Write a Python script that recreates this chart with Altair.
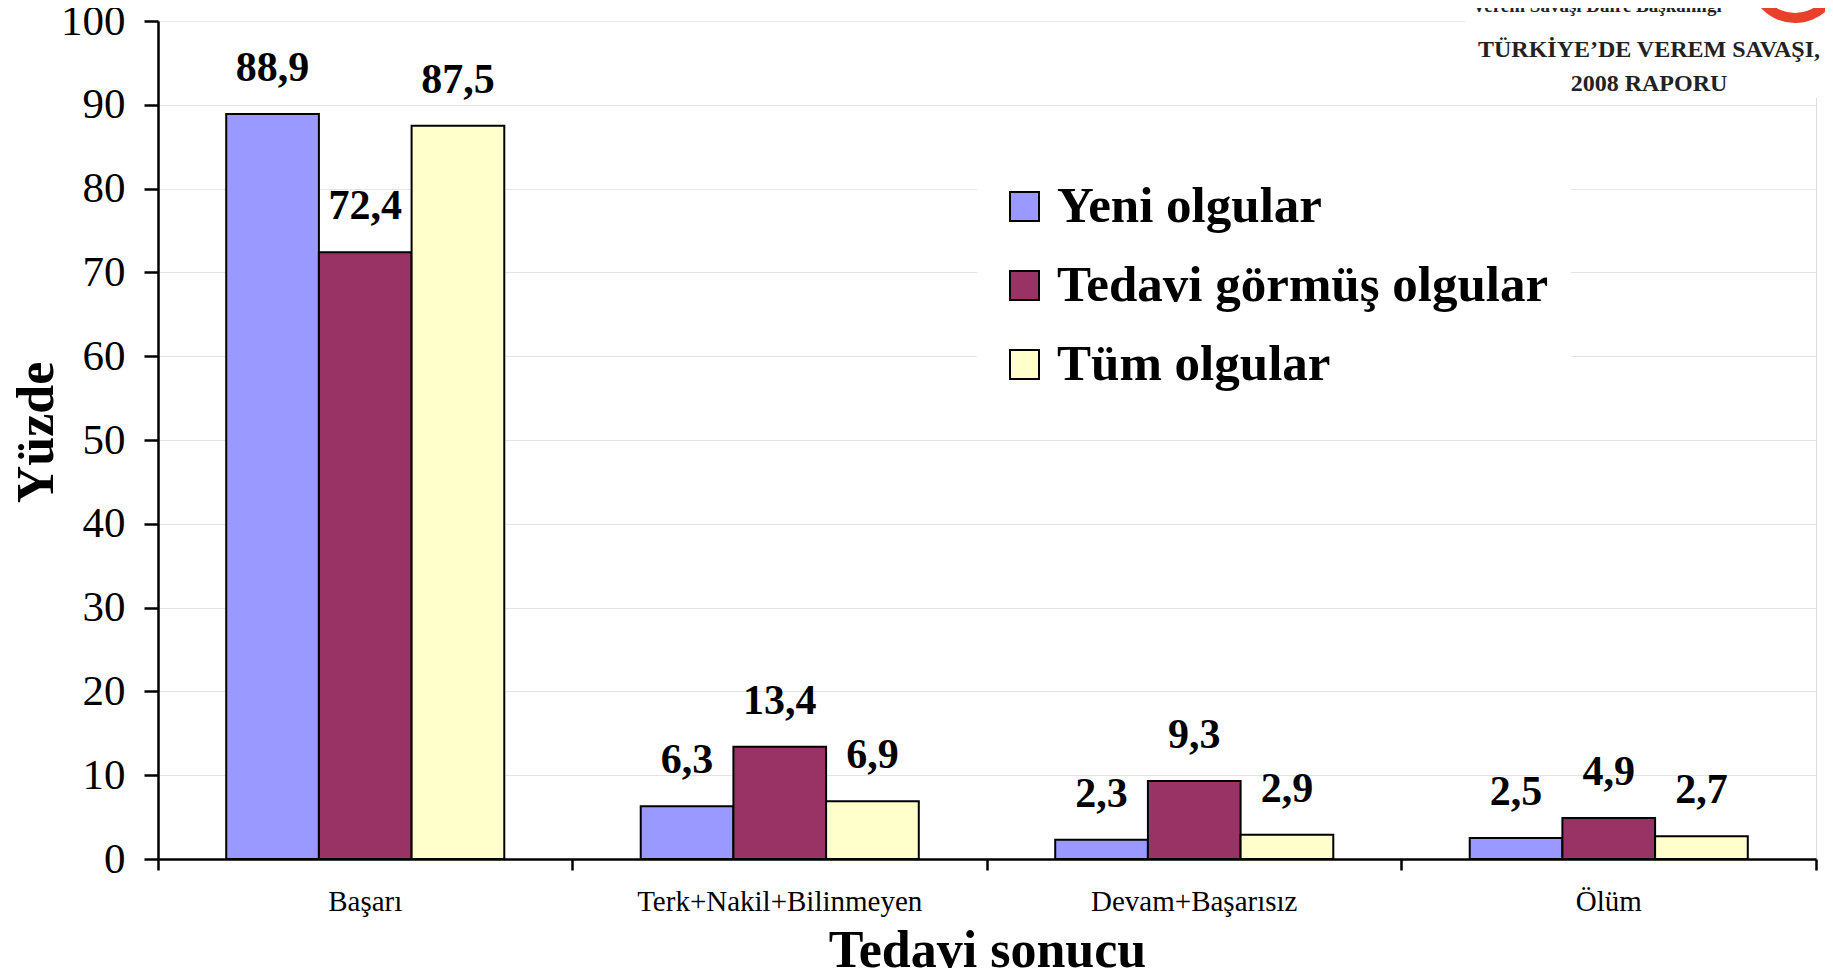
import altair as alt
import pandas as pd

categories = ["Başarı", "Terk+Nakil+Bilinmeyen", "Devam+Başarısız", "Ölüm"]
series = ["Yeni olgular", "Tedavi görmüş olgular", "Tüm olgular"]
yeni = [88.9, 6.3, 2.3, 2.5]
tedavi = [72.4, 13.4, 9.3, 4.9]
tum = [87.5, 6.9, 2.9, 2.7]
colors = ["#9999FF", "#993366", "#FFFFCC"]
y_ticks = [0, 10, 20, 30, 40, 50, 60, 70, 80, 90, 100]
logo_lines = ["TÜRKİYE’DE VEREM SAVAŞI,", "2008 RAPORU"]
logo_top = "Verem Savaşı Daire Başkanlığı"

rows = []
for s, vals in zip(series, [yeni, tedavi, tum]):
    for c, v in zip(categories, vals):
        rows.append({"Kategori": c, "Seri": s, "deger": v,
                     "Etiket": f"{v:.1f}".replace(".", ",")})
df = pd.DataFrame(rows)

FONT = "Liberation Serif"
W, H = 1658, 838

x_enc = alt.X(
    "Kategori:N", sort=categories,
    scale=alt.Scale(paddingInner=0, paddingOuter=0),
    axis=alt.Axis(
        title="Tedavi sonucu", labelAngle=0, labelFont=FONT, labelFontSize=29,
        labelColor="black", labelPadding=17, labelLimit=1000, bandPosition=1,
        tickExtra=True, tickSize=11, tickWidth=2.5, tickColor="black",
        domainColor="black", domainWidth=2.5, titleFont=FONT, titleFontSize=52,
        titleFontWeight="bold", titleColor="black", titleX=W / 2, titleY=107,
        titleBaseline="alphabetic", titleAlign="center", grid=False,
    ),
)
y_enc = alt.Y(
    "deger:Q",
    scale=alt.Scale(domain=[0, 100], nice=False),
    axis=alt.Axis(
        values=y_ticks, title="Yüzde", labelFont=FONT, labelFontSize=43,
        labelColor="black", labelPadding=19, tickSize=14, tickWidth=2.5,
        tickColor="black", domainColor="black", domainWidth=2.5, grid=True,
        gridColor="#e4e4e4", gridWidth=1, titleFont=FONT, titleFontSize=52,
        titleFontWeight="bold", titleColor="black", titleX=-106, titleY=411,
        titleAngle=270, titleBaseline="alphabetic", titleAlign="center",
    ),
)
xoff = alt.XOffset("Seri:N", sort=series,
                   scale=alt.Scale(paddingOuter=0.736, paddingInner=0))

base = alt.Chart(df).encode(x=x_enc, y=y_enc, xOffset=xoff)

bars = base.mark_bar(stroke="black", strokeWidth=2).encode(
    color=alt.Color(
        "Seri:N", sort=series,
        scale=alt.Scale(domain=series, range=colors),
        legend=alt.Legend(
            orient="none", legendX=819, legendY=138, title=None,
            fillColor="white", padding=22, symbolType="square",
            symbolSize=841, symbolStrokeColor="black", symbolStrokeWidth=2,
            symbolOpacity=1, labelFont=FONT, labelFontSize=51,
            labelFontWeight="bold", labelColor="black", rowPadding=27,
            labelOffset=7, labelLimit=2000,
        ),
    )
)

texts = base.mark_text(
    baseline="alphabetic", dy=-33, font=FONT, fontSize=42,
    fontWeight="bold", color="black",
).encode(text="Etiket:N")

deco = pd.DataFrame({"k": [0]})
logo_box = alt.Chart(deco).mark_rect(color="white").encode(
    x=alt.value(1307), x2=alt.value(1700), y=alt.value(-30), y2=alt.value(77)
)
logo_arc = alt.Chart(deco).mark_arc(
    radius=46, radius2=36, theta=1.5708, theta2=4.7124, color="#E8402A"
).encode(x=alt.value(1637), y=alt.value(-44))
logo_t0 = alt.Chart(deco).mark_text(
    font=FONT, fontSize=19, fontWeight="bold", align="center",
    baseline="alphabetic", color="#222222",
).encode(x=alt.value(1439), y=alt.value(-9), text=alt.value(logo_top))
logo_t1 = alt.Chart(deco).mark_text(
    font=FONT, fontSize=24, fontWeight="bold", align="center",
    baseline="alphabetic", color="#222222",
).encode(x=alt.value(1491), y=alt.value(36), text=alt.value(logo_lines[0]))
logo_t2 = alt.Chart(deco).mark_text(
    font=FONT, fontSize=24, fontWeight="bold", align="center",
    baseline="alphabetic", color="#222222",
).encode(x=alt.value(1491), y=alt.value(70), text=alt.value(logo_lines[1]))

chart = alt.layer(bars, texts, logo_box, logo_arc, logo_t0, logo_t1, logo_t2).properties(
    width=W, height=H,
    autosize=alt.AutoSizeParams(type="none"),
    padding={"left": 150, "top": 13, "right": 9, "bottom": 112},
).configure_view(
    stroke="#8a8a8a", strokeWidth=3
).configure(background="white")

chart.save("out.html", embed_options={"renderer": "svg", "actions": False})
